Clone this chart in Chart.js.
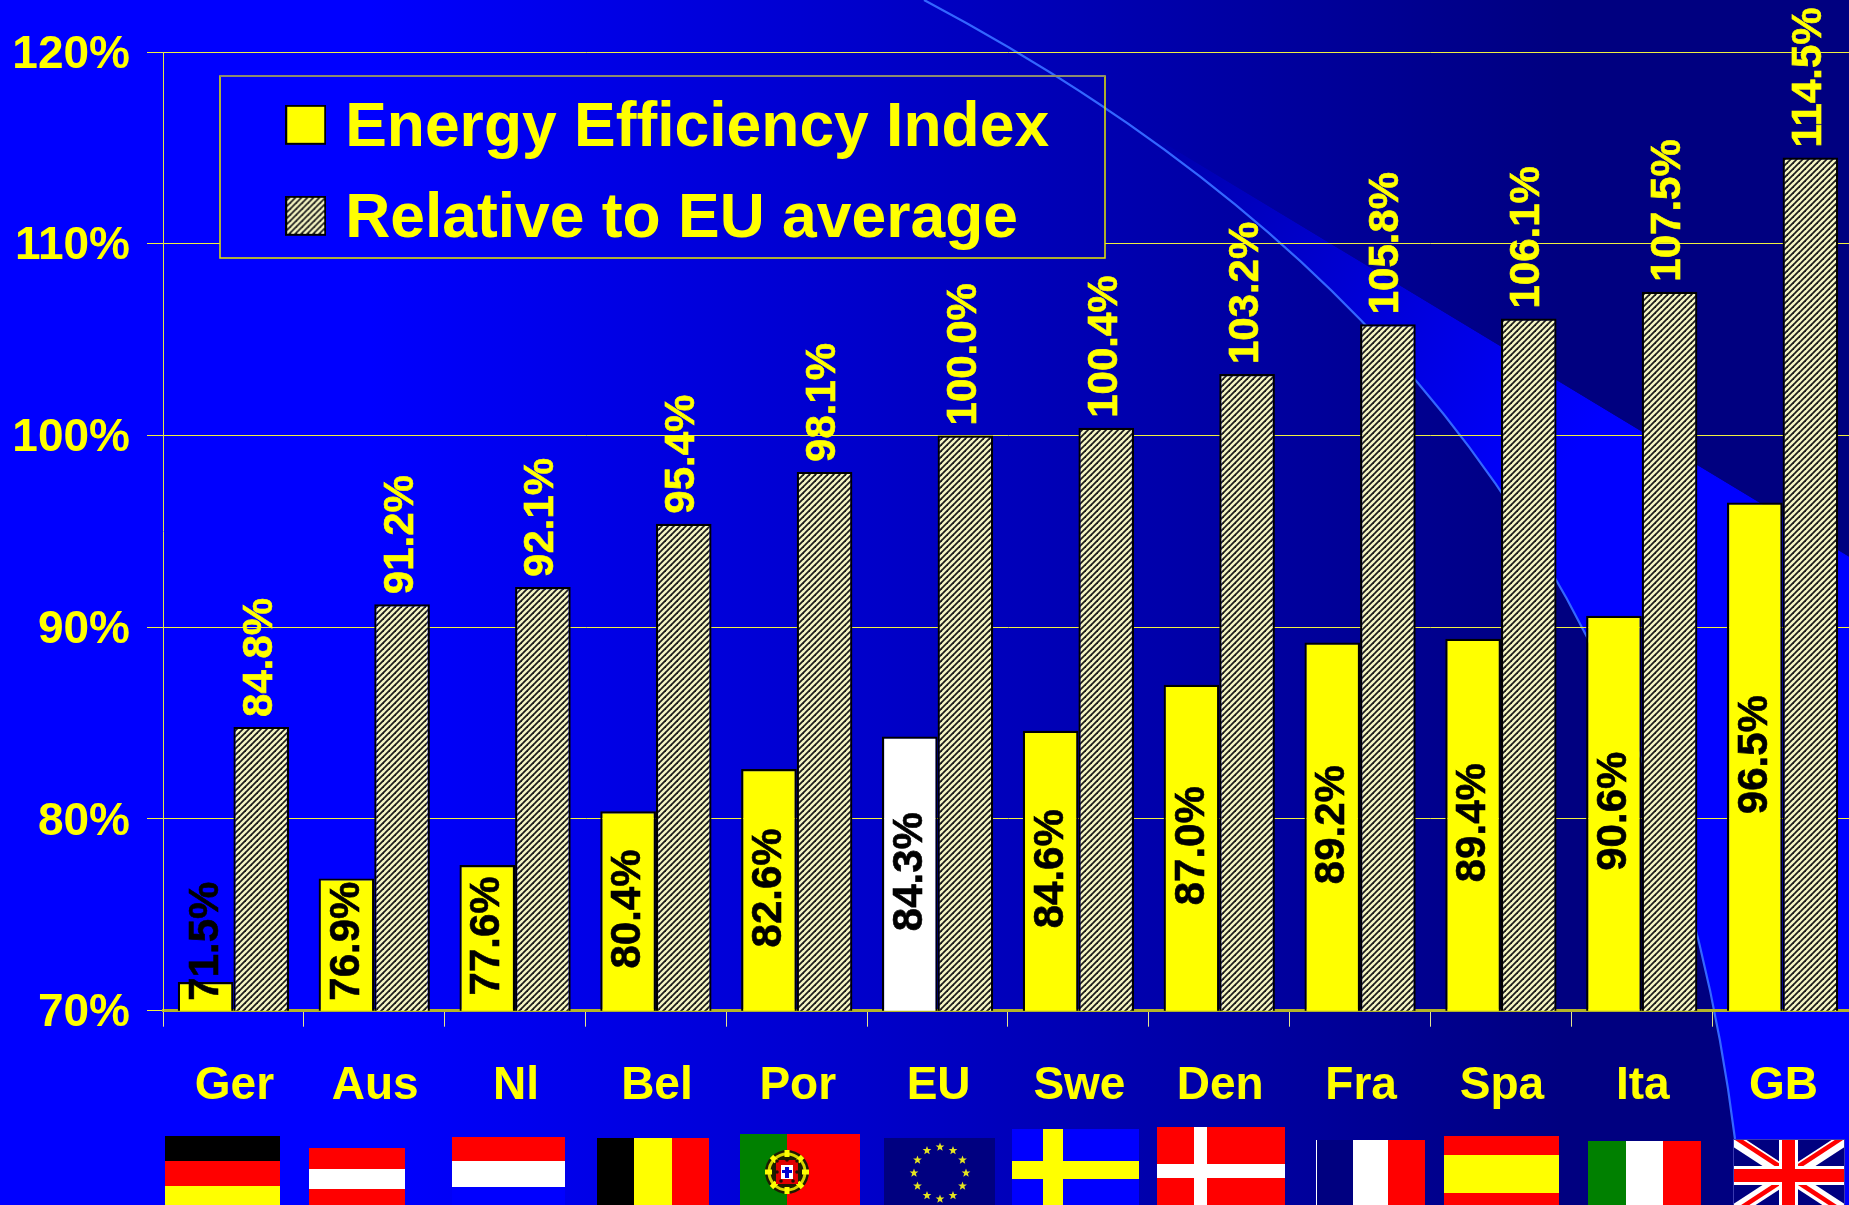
<!DOCTYPE html>
<html>
<head>
<meta charset="utf-8">
<title>Energy Efficiency Index</title>
<script src="https://cdn.jsdelivr.net/npm/chart.js@4/dist/chart.umd.min.js"></script>
<style>
html,body{margin:0;padding:0;background:#0000ff;overflow:hidden}
#wrap{width:1849px;height:1205px;overflow:hidden;position:relative}
canvas{display:block}
</style>
</head>
<body>
<div id="wrap"><canvas id="c" width="1853" height="1205"></canvas></div>
<script>
const categories = ['Ger','Aus','Nl','Bel','Por','EU','Swe','Den','Fra','Spa','Ita','GB'];
const efficiencyIndex = [71.5,76.9,77.6,80.4,82.6,84.3,84.6,87.0,89.2,89.4,90.6,96.5];
const relativeToEU = [84.8,91.2,92.1,95.4,98.1,100.0,100.4,103.2,105.8,106.1,107.5,114.5];
const seriesNames = ['Energy Efficiency Index','Relative to EU average'];
const FONT = '"Liberation Sans", Arial, sans-serif';

function makeHatch(){
  const s=document.createElement('canvas'); s.width=6; s.height=6;
  const g=s.getContext('2d');
  g.fillStyle='#f6f6c4'; g.fillRect(0,0,6,6);
  g.strokeStyle='#1c1c1c'; g.lineWidth=1.8;
  [[-1,1,1,-1],[-1,7,7,-1],[5,7,7,5]].forEach(l=>{g.beginPath();g.moveTo(l[0],l[1]);g.lineTo(l[2],l[3]);g.stroke();});
  return g.createPattern(s,'repeat');
}
const hatch = makeHatch();

function swatch(fill){
  const s=document.createElement('canvas'); s.width=41; s.height=48;
  const g=s.getContext('2d');
  g.fillStyle=fill; g.fillRect(0,0,41,40);
  g.strokeStyle='#000'; g.lineWidth=2; g.strokeRect(1,1,39,38);
  return s;
}
const swatches = [swatch('#ffff00'),swatch(makeHatch())];

function traceArc(ctx,start){
  if(start) ctx.moveTo(924,0);
  ctx.bezierCurveTo(1366,234,1665,578,1735,1139);
}
function paintBg(ctx){
  const g=ctx.createLinearGradient(370,0,1560,0);
  g.addColorStop(0,'#0000ff'); g.addColorStop(1,'#000080');
  ctx.fillStyle=g; ctx.fillRect(0,0,1853,1205);
  ctx.save();
  ctx.beginPath();
  ctx.moveTo(924,0);
  traceArc(ctx,false);
  ctx.lineTo(1735,1205); ctx.lineTo(1853,1205); ctx.lineTo(1853,559); ctx.lineTo(1106,108); ctx.closePath();
  const w=ctx.createLinearGradient(1130,120,1560,470);
  w.addColorStop(0,'#0000a8'); w.addColorStop(1,'#0000ff');
  ctx.fillStyle=w; ctx.fill();
  ctx.restore();
  ctx.save();
  ctx.beginPath(); ctx.moveTo(924,0); ctx.lineTo(1853,0); ctx.lineTo(1853,559); ctx.lineTo(1106,108); ctx.closePath(); ctx.clip();
  ctx.fillStyle=g; ctx.fillRect(0,0,1853,1205);
  ctx.restore();
  ctx.beginPath(); traceArc(ctx,true);
  ctx.strokeStyle='#3366ff'; ctx.lineWidth=2.2; ctx.stroke();
}
function band(ctx,x0,x1,y0,y1,c){ctx.fillStyle=c;ctx.fillRect(x0,y0,x1-x0,y1-y0);}
function star(ctx,cx,cy,r){
  ctx.beginPath();
  for(let i=0;i<10;i++){
    const a=-Math.PI/2+i*Math.PI/5, rr=i%2?r*0.42:r;
    ctx.lineTo(cx+rr*Math.cos(a),cy+rr*Math.sin(a));
  }
  ctx.closePath(); ctx.fill();
}
function paintFlags(ctx){
  const B=1205;
  band(ctx,165,280,1136,1161,'#000'); band(ctx,165,280,1161,1186,'#f00'); band(ctx,165,280,1186,B,'#ff0');
  band(ctx,309,405,1148,1169,'#f00'); band(ctx,309,405,1169,1189,'#fff'); band(ctx,309,405,1189,B,'#f00');
  band(ctx,452,565,1137,1161,'#f00'); band(ctx,452,565,1161,1187,'#fff'); band(ctx,452,565,1187,B,'#0000ff');
  band(ctx,597,634,1138,B,'#000'); band(ctx,634,672,1138,B,'#ff0'); band(ctx,672,709,1138,B,'#f00');
  // Portugal
  band(ctx,740,787,1134,B,'#008000'); band(ctx,787,860,1134,B,'#f00');
  ctx.beginPath(); ctx.arc(787,1172,22,0,7); ctx.fillStyle='#1c1c00'; ctx.fill();
  ctx.beginPath(); ctx.arc(787,1172,18,0,7); ctx.strokeStyle='#d8d800'; ctx.lineWidth=3; ctx.stroke();
  ctx.strokeStyle='#ffff00'; ctx.lineWidth=5;
  for(let i=0;i<8;i++){const a=i*Math.PI/4;ctx.beginPath();ctx.moveTo(787+15*Math.cos(a),1172+15*Math.sin(a));ctx.lineTo(787+22*Math.cos(a),1172+22*Math.sin(a));ctx.stroke();}
  band(ctx,776,798,1160,1184,'#e00000'); band(ctx,781,793,1165,1179,'#fff'); band(ctx,785,789,1167,1178,'#0000d0'); band(ctx,782,792,1170,1173,'#0000d0');
  [[777,1161],[787,1160],[797,1161],[777,1172],[797,1172],[781,1181],[793,1181]].forEach(p=>{ctx.beginPath();ctx.arc(p[0],p[1],1.8,0,7);ctx.fillStyle='#201000';ctx.fill();});
  // EU
  band(ctx,884,995,1138,B,'#000080');
  ctx.fillStyle='#e4e420';
  for(let i=0;i<12;i++){const a=i*Math.PI/6; star(ctx,940+26*Math.sin(a),1173-26*Math.cos(a),4.6);}
  band(ctx,1012,1139,1129,B,'#0000ff'); band(ctx,1043,1063,1129,B,'#ff0'); band(ctx,1012,1139,1161,1179,'#ff0');
  band(ctx,1157,1285,1127,B,'#f00'); band(ctx,1194,1207,1127,B,'#fff'); band(ctx,1157,1285,1164,1178,'#fff');
  band(ctx,1316,1353,1140,B,'#000080'); band(ctx,1316,1317,1140,B,'#fff'); band(ctx,1353,1388,1140,B,'#fff'); band(ctx,1388,1425,1140,B,'#f00');
  band(ctx,1444,1559,1136,1155,'#f00'); band(ctx,1444,1559,1155,1193,'#ff0'); band(ctx,1444,1559,1193,B,'#f00');
  band(ctx,1588,1626,1141,B,'#008000'); band(ctx,1626,1663,1141,B,'#fff'); band(ctx,1663,1701,1141,B,'#f00');
  // United Kingdom
  ctx.save();
  ctx.beginPath(); ctx.rect(1733,1139,112,66); ctx.clip();
  band(ctx,1733,1845,1139,B,'#000080');
  ctx.lineCap='butt';
  const d=(x0,y0,x1,y1,c,w)=>{ctx.beginPath();ctx.moveTo(x0,y0);ctx.lineTo(x1,y1);ctx.strokeStyle=c;ctx.lineWidth=w;ctx.stroke();};
  d(1733,1139,1845,1212,'#fff',13); d(1845,1139,1733,1212,'#fff',13);
  d(1733,1136,1785,1170,'#f00',4.5); d(1845,1136,1793,1170,'#f00',4.5);
  d(1733,1213,1782,1181,'#f00',4.5); d(1845,1213,1796,1181,'#f00',4.5);
  band(ctx,1733,1845,1166,1185,'#fff'); band(ctx,1779,1798,1139,B,'#fff');
  band(ctx,1733,1845,1169,1182,'#f00'); band(ctx,1782,1795,1139,B,'#f00');
  ctx.restore();
  ctx.strokeStyle='#3a3ab0'; ctx.lineWidth=1; ctx.strokeRect(1733.5,1139.5,111,70);
}

const LEGEND_RECT={x:220,y:76,w:885,h:182};
const scenery={
  id:'scenery',
  beforeDraw(chart){
    const ctx=chart.ctx; ctx.save(); paintBg(ctx); paintFlags(ctx); ctx.restore();
  },
  afterLayout(chart){
    const l=chart.legend;
    if(l){ l.left=268.8; l.right=1105; l.top=69; l.width=836; }
    chart.scales.y.getLabelItems(chart.chartArea).forEach(it=>{it.options.translation[1]+=3;});
    chart.scales.x.getLabelItems(chart.chartArea).forEach(it=>{it.options.translation[0]+=1;});
  },
  beforeDatasetsDraw(chart){
    const ctx=chart.ctx,r=LEGEND_RECT;
    ctx.save();
    ctx.beginPath(); ctx.rect(r.x,r.y,r.w,r.h); ctx.clip();
    paintBg(ctx);
    ctx.restore();
    ctx.save();
    ctx.strokeStyle='#e8e800'; ctx.lineWidth=1.5;
    ctx.strokeRect(r.x,r.y,r.w,r.h);
    ctx.strokeStyle='#8c8c70'; ctx.lineWidth=2;
    ctx.beginPath(); ctx.moveTo(r.x,r.y); ctx.lineTo(r.x+r.w,r.y); ctx.stroke();
    ctx.restore();
    chart.legend.draw();
  },
  afterDatasetsDraw(chart){
    const ctx=chart.ctx, axisY=chart.scales.y.bottom;
    ctx.save();
    ctx.font='bold 42px '+FONT;
    ctx.textBaseline='middle';
    ctx.lineWidth=0.6;
    chart.data.datasets.forEach((ds,di)=>{
      chart.getDatasetMeta(di).data.forEach((bar,i)=>{
        const text=ds.data[i].toFixed(1)+'%';
        const tw=ctx.measureText(text).width;
        ctx.save();
        let cy,dx;
        if(di===0){
          cy=Math.min((bar.y+axisY)/2-2, axisY-10-tw/2);
          dx=0.5;
          ctx.fillStyle='#000'; ctx.strokeStyle='#000';
        }else{
          cy=bar.y-10-tw/2;
          dx=-1;
          ctx.fillStyle='#ffff00'; ctx.strokeStyle='#ffff00';
        }
        ctx.translate(bar.x+dx,cy);
        ctx.rotate(-Math.PI/2);
        ctx.textAlign='center';
        ctx.fillText(text,0,0);
        ctx.strokeText(text,0,0);
        ctx.restore();
      });
    });
    ctx.restore();
  }
};

new Chart(document.getElementById('c'),{
  type:'bar',
  data:{
    labels:categories,
    datasets:[
      {label:seriesNames[0],data:efficiencyIndex,
       backgroundColor:categories.map(c=>c==='EU'?'#ffffff':'#ffff00'),
       borderColor:'#000',borderWidth:2.2,barPercentage:1,categoryPercentage:0.79},
      {label:seriesNames[1],data:relativeToEU,
       backgroundColor:hatch,
       borderColor:'#000',borderWidth:2.2,barPercentage:1,categoryPercentage:0.79}
    ]
  },
  options:{
    responsive:false,
    animation:false,
    devicePixelRatio:1,
    layout:{padding:{top:52,left:0,right:0,bottom:0}},
    plugins:{
      tooltip:{enabled:false},
      title:{display:false},
      legend:{
        display:true,position:'chartArea',align:'start',
        labels:{
          usePointStyle:true,pointStyleWidth:16.6,boxHeight:40,padding:28.6,
          color:'#ffff00',font:{family:FONT,size:62.4,weight:'bold'},
          generateLabels(chart){
            return Chart.defaults.plugins.legend.labels.generateLabels(chart)
              .map((it,i)=>Object.assign(it,{pointStyle:swatches[i],fontColor:'#ffff00'}));
          }
        }
      }
    },
    scales:{
      x:{
        type:'category',
        afterFit(s){s.height=194.3;},
        grid:{drawOnChartArea:false,drawTicks:true,tickLength:16,offset:true,color:'#e6e68c',lineWidth:1},
        border:{color:'#b4b428',width:3},
        ticks:{color:'#ffff00',font:{family:FONT,size:46,weight:'bold'},padding:32.5,maxRotation:0,autoSkip:false}
      },
      y:{
        min:70,max:120,
        afterFit(s){s.width=163;},
        grid:{tickLength:16,color:'#f0f040',lineWidth:1},
        border:{color:'#e6e640',width:1},
        ticks:{stepSize:10,color:'#ffff00',font:{family:FONT,size:46,weight:'bold'},padding:17,callback:v=>v+'%'}
      }
    }
  },
  plugins:[scenery]
});
</script>
</body>
</html>
